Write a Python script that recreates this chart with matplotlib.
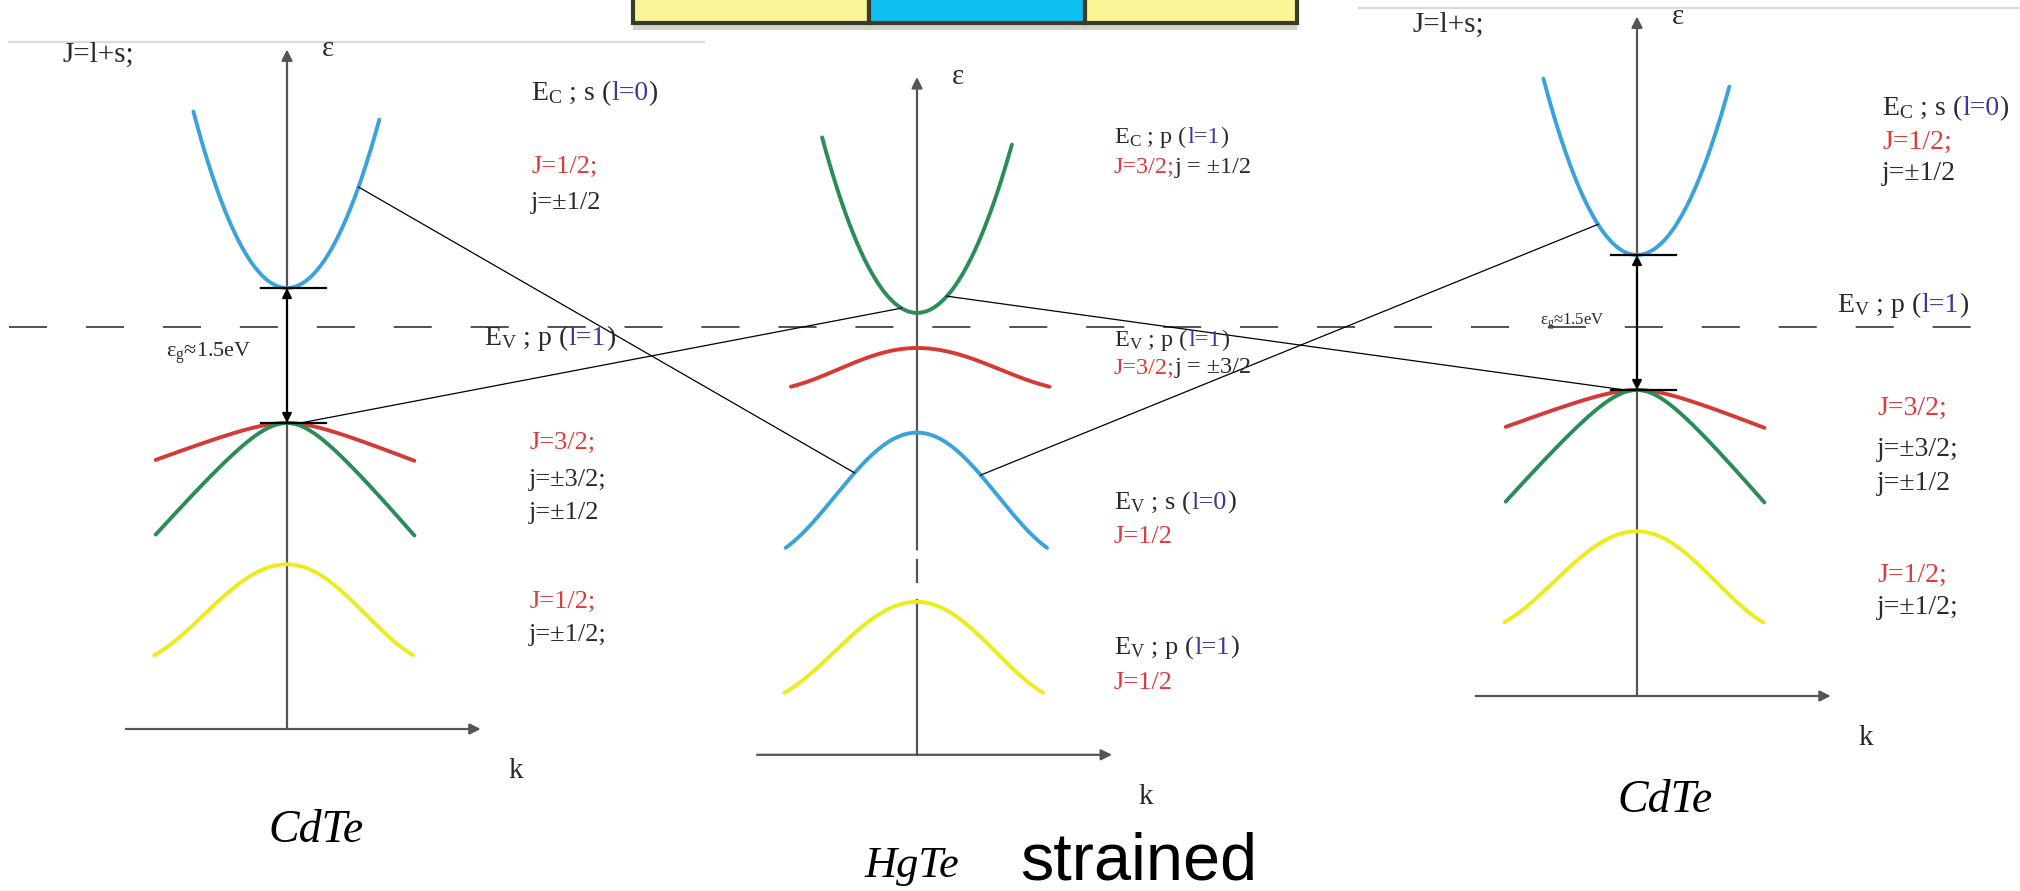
"""
Estructura de bandas CdTe / HgTe (strained) / CdTe.
Cada panel se dibuja con su propia transformacion (k, E) -> pixeles.
"""
import numpy as np
import matplotlib.pyplot as plt
from matplotlib.transforms import Affine2D
from matplotlib.offsetbox import TextArea, HPacker, AnnotationBbox
from matplotlib.patches import Rectangle

plt.rcParams["font.family"] = ["Liberation Serif", "DejaVu Serif"]
plt.rcParams["mathtext.fontset"] = "custom"
plt.rcParams["mathtext.rm"] = "Liberation Serif"
plt.rcParams["mathtext.it"] = "Liberation Serif:italic"
plt.rcParams["lines.scale_dashes"] = False

# ---------------------------------------------------------------
# Datos: bandas (k relativo, energia ~ eV, 0 = tope de valencia)
# orden CdTe: conduccion s, J=3/2 (pesados), J=3/2 (livianos), J=1/2
# ---------------------------------------------------------------
cdte_apex = [1.50, 0.00, 0.00, -1.57]
cdte_edge_l = [3.46, -0.41, -1.24, -2.58]
cdte_edge_r = [3.37, -0.42, -1.25, -2.58]
cdte_k_l = [-0.72, -1.01, -1.01, -1.02]
cdte_k_r = [0.71, 0.98, 0.98, 0.97]
cdte_gap = 1.5

# orden HgTe: Ec p J=3/2, Ev p J=3/2, Ev s J=1/2, Ev p J=1/2
hgte_apex = [0.39, 0.00, -0.94, -2.82]
hgte_edge_l = [2.34, -0.43, -2.22, -3.83]
hgte_edge_r = [2.26, -0.43, -2.22, -3.83]
hgte_k_l = [-0.73, -0.97, -1.01, -1.02]
hgte_k_r = [0.73, 1.02, 1.00, 0.97]

# ejes: E del extremo superior, E del eje k, k min, k max
cdte_axes = [4.15, -3.40, -1.24, 1.49]
hgte_axes = [3.01, -4.52, -1.23, 1.50]
hgte_axis_gaps = [-2.24, -2.36, -2.60, -2.80]

# lineas que unen bandas: (panel, banda, k) -> (panel, banda, k)
links = [
    (("L", 0, 0.55), ("M", 2, -0.48)),
    (("L", 1, 0.08), ("M", 0, -0.12)),
    (("M", 0, 0.23), ("R", 1, -0.07)),
    (("M", 2, 0.49), ("R", 0, -0.30)),
]

# ---------------------------------------------------------------
# Estilos
# ---------------------------------------------------------------
BLUE, RED, GREEN, YELLOW = "#3aa3d9", "#d53a37", "#2b8c57", "#ecec1c"
TXT, TRED, TBLUE = "#2a2a2a", "#e03a3a", "#3a3a9c"
AXC = "#555555"
cdte_colors = [BLUE, RED, GREEN, YELLOW]
cdte_shapes = ["para", "cap", "cap", "bell"]
hgte_colors = [GREEN, RED, BLUE, YELLOW]
hgte_shapes = ["para", "bell", "bell", "bell"]

W, H = 2020, 891
fig = plt.figure(figsize=(W / 100, H / 100), dpi=100)
ax = fig.add_axes([0, 0, 1, 1])
ax.set_xlim(0, W)
ax.set_ylim(H, 0)
ax.axis("off")

SX, SY = 130, 90
origins = {"L": (287, 423), "M": (917, 348), "R": (1637, 390)}
tr = {p: Affine2D().scale(SX, -SY).translate(*o) + ax.transData for p, o in origins.items()}


def shape_f(t, shape):
    if shape == "para":
        return t ** 2
    if shape == "cap":
        a = 0.3
        return (np.sqrt(t ** 2 + a ** 2) - a) / (np.sqrt(1 + a ** 2) - a)
    return (1 - np.cos(0.8 * np.pi * t)) / (1 - np.cos(0.8 * np.pi))


def band_e(k, apex, el, er, kl, kr, shape):
    k = np.asarray(k, dtype=float)
    return np.where(k < 0,
                    apex + (el - apex) * shape_f(k / kl, shape),
                    apex + (er - apex) * shape_f(k / kr, shape))


panel_data = {
    "L": (cdte_apex, cdte_edge_l, cdte_edge_r, cdte_k_l, cdte_k_r, cdte_shapes, cdte_colors),
    "R": (cdte_apex, cdte_edge_l, cdte_edge_r, cdte_k_l, cdte_k_r, cdte_shapes, cdte_colors),
    "M": (hgte_apex, hgte_edge_l, hgte_edge_r, hgte_k_l, hgte_k_r, hgte_shapes, hgte_colors),
}

# bandas
for p, (apex, el, er, kl, kr, shapes, cols) in panel_data.items():
    for i in range(len(apex)):
        k = np.linspace(kl[i], kr[i], 200)
        e = band_e(k, apex[i], el[i], er[i], kl[i], kr[i], shapes[i])
        ax.plot(k, e, color=cols[i], lw=2.8, transform=tr[p], zorder=3,
                solid_capstyle="round")

# ejes de cada panel
arrow_kw = dict(arrowstyle="-|>", color=AXC, lw=1.6, mutation_scale=16,
                shrinkA=0, shrinkB=0)
for p, axd in (("L", cdte_axes), ("R", cdte_axes), ("M", hgte_axes)):
    e_top, e_k, k0, k1 = axd
    ax.annotate("", xy=(k1, e_k), xytext=(k0, e_k), xycoords=tr[p],
                arrowprops=arrow_kw, zorder=2)
    if p == "M":
        g = hgte_axis_gaps
        ax.annotate("", xy=(0, e_top), xytext=(0, g[0]), xycoords=tr[p],
                    arrowprops=arrow_kw, zorder=2)
        ax.plot([0, 0], [g[1], g[2]], color=AXC, lw=1.6, transform=tr[p], zorder=2)
        ax.plot([0, 0], [g[3], e_k], color=AXC, lw=1.6, transform=tr[p], zorder=2)
    else:
        ax.annotate("", xy=(0, e_top), xytext=(0, e_k), xycoords=tr[p],
                    arrowprops=arrow_kw, zorder=2)
    ax.text(0.27, e_top, "ε", transform=tr[p], fontsize=21, color=TXT,
            ha="left", va="center")
    ax.text(1.70, e_k - 0.47, "k", transform=tr[p], fontsize=21, color=TXT,
            ha="left", va="center")

# gap de CdTe: marcas y doble flecha
for p in ("L", "R"):
    for e in (cdte_gap, 0.0):
        ax.plot([-0.2, 0.3], [e, e], color="black", lw=1.6, transform=tr[p], zorder=4)
    ax.annotate("", xy=(0, cdte_gap), xytext=(0, 0), xycoords=tr[p],
                arrowprops=dict(arrowstyle="<|-|>", color="black", lw=1.5,
                                mutation_scale=14, shrinkA=0, shrinkB=0), zorder=4)

# lineas de union
for (pa, ba, ka), (pb, bb, kb) in links:
    pts = []
    for p, b, k in ((pa, ba, ka), (pb, bb, kb)):
        apex, el, er, kl, kr, shapes, _ = panel_data[p]
        e = float(band_e(k, apex[b], el[b], er[b], kl[b], kr[b], shapes[b]))
        pts.append(tr[p].transform((k, e)))
    pts = ax.transData.inverted().transform(pts)
    ax.plot(pts[:, 0], pts[:, 1], color="black", lw=0.9, zorder=5)

# linea de referencia a trazos
ax.plot([9, 1985], [327, 327], color="#333333", lw=1.2, ls=(0, (27.4, 28.0)), zorder=1)

# lineas grises superiores y caja de colores
ax.plot([9, 704], [42, 42], color="#d9d9d9", lw=1.6)
ax.plot([1359, 2020], [8, 8], color="#d9d9d9", lw=1.6)
ax.add_patch(Rectangle((633, 24), 664, 6, color="#d2d2c8", lw=0, zorder=0))
for x0, w, c in ((633, 236, "#faf596"), (869, 216, "#0ec0f0"), (1085, 212, "#faf596")):
    ax.add_patch(Rectangle((x0, -10), w, 33, facecolor=c, edgecolor="#3b3b2b",
                           lw=3, zorder=1))


def label(x, y, parts, size):
    boxes = [TextArea(s, textprops=dict(color=c, fontsize=size)) for s, c in parts]
    pack = HPacker(children=boxes, align="baseline", pad=0, sep=0)
    ab = AnnotationBbox(pack, (x, y), xycoords="data", box_alignment=(0, 0.5),
                        frameon=False, pad=0, zorder=6)
    ax.add_artist(ab)


def ec(sub, orb, l):
    return [(r"E$_{\rm %s}$ ; %s (" % (sub, orb), TXT), (l, TBLUE), (")", TXT)]


# textos panel izquierdo
label(62, 55, [("J=l+s;", TXT)], 21)
label(531, 93, ec("C", "s", "l=0"), 20)
label(531, 167, [("J=1/2;", TRED)], 19)
label(531, 203, [("j=±1/2", TXT)], 19)
label(484, 338, ec("V", "p", "l=1"), 20)
label(529, 443, [("J=3/2;", TRED)], 19)
label(529, 480, [("j=±3/2;", TXT)], 19)
label(529, 513, [("j=±1/2", TXT)], 19)
label(529, 602, [("J=1/2;", TRED)], 19)
label(529, 635, [("j=±1/2;", TXT)], 19)
label(166, 353, [(r"ε$_{\rm g}$≈1.5eV", TXT)], 16)
ax.text(316, 842, "CdTe", fontsize=33, style="italic", color="black",
        ha="center", va="baseline")

# textos panel central
label(1114, 137, ec("C", "p", "l=1"), 17.5)
label(1114, 167, [("J=3/2;", TRED), ("j = ±1/2", TXT)], 17.5)
label(1114, 340, ec("V", "p", "l=1"), 17.5)
label(1114, 368, [("J=3/2;", TRED), ("j = ±3/2", TXT)], 17.5)
label(1114, 503, ec("V", "s", "l=0"), 19)
label(1114, 537, [("J=1/2", TRED)], 19)
label(1114, 648, ec("V", "p", "l=1"), 19)
label(1114, 683, [("J=1/2", TRED)], 19)
ax.text(912, 877, "HgTe", fontsize=32, style="italic", color="black",
        ha="center", va="baseline")
ax.text(1020, 880, "strained", fontsize=48, family="Liberation Sans",
        color="black", ha="left", va="baseline")

# textos panel derecho
label(1412, 25, [("J=l+s;", TXT)], 21)
label(1882, 108, ec("C", "s", "l=0"), 20)
label(1882, 142, [("J=1/2;", TRED)], 20)
label(1882, 173, [("j=±1/2", TXT)], 20)
label(1837, 305, ec("V", "p", "l=1"), 20)
label(1877, 408, [("J=3/2;", TRED)], 20)
label(1877, 450, [("j=±3/2;", TXT)], 20)
label(1877, 483, [("j=±1/2", TXT)], 20)
label(1877, 575, [("J=1/2;", TRED)], 20)
label(1877, 607, [("j=±1/2;", TXT)], 20)
label(1540, 322, [(r"ε$_{\rm g}$≈1.5eV", TXT)], 12)
ax.text(1665, 812, "CdTe", fontsize=33, style="italic", color="black",
        ha="center", va="baseline")

fig.savefig("out.png", dpi=100)
